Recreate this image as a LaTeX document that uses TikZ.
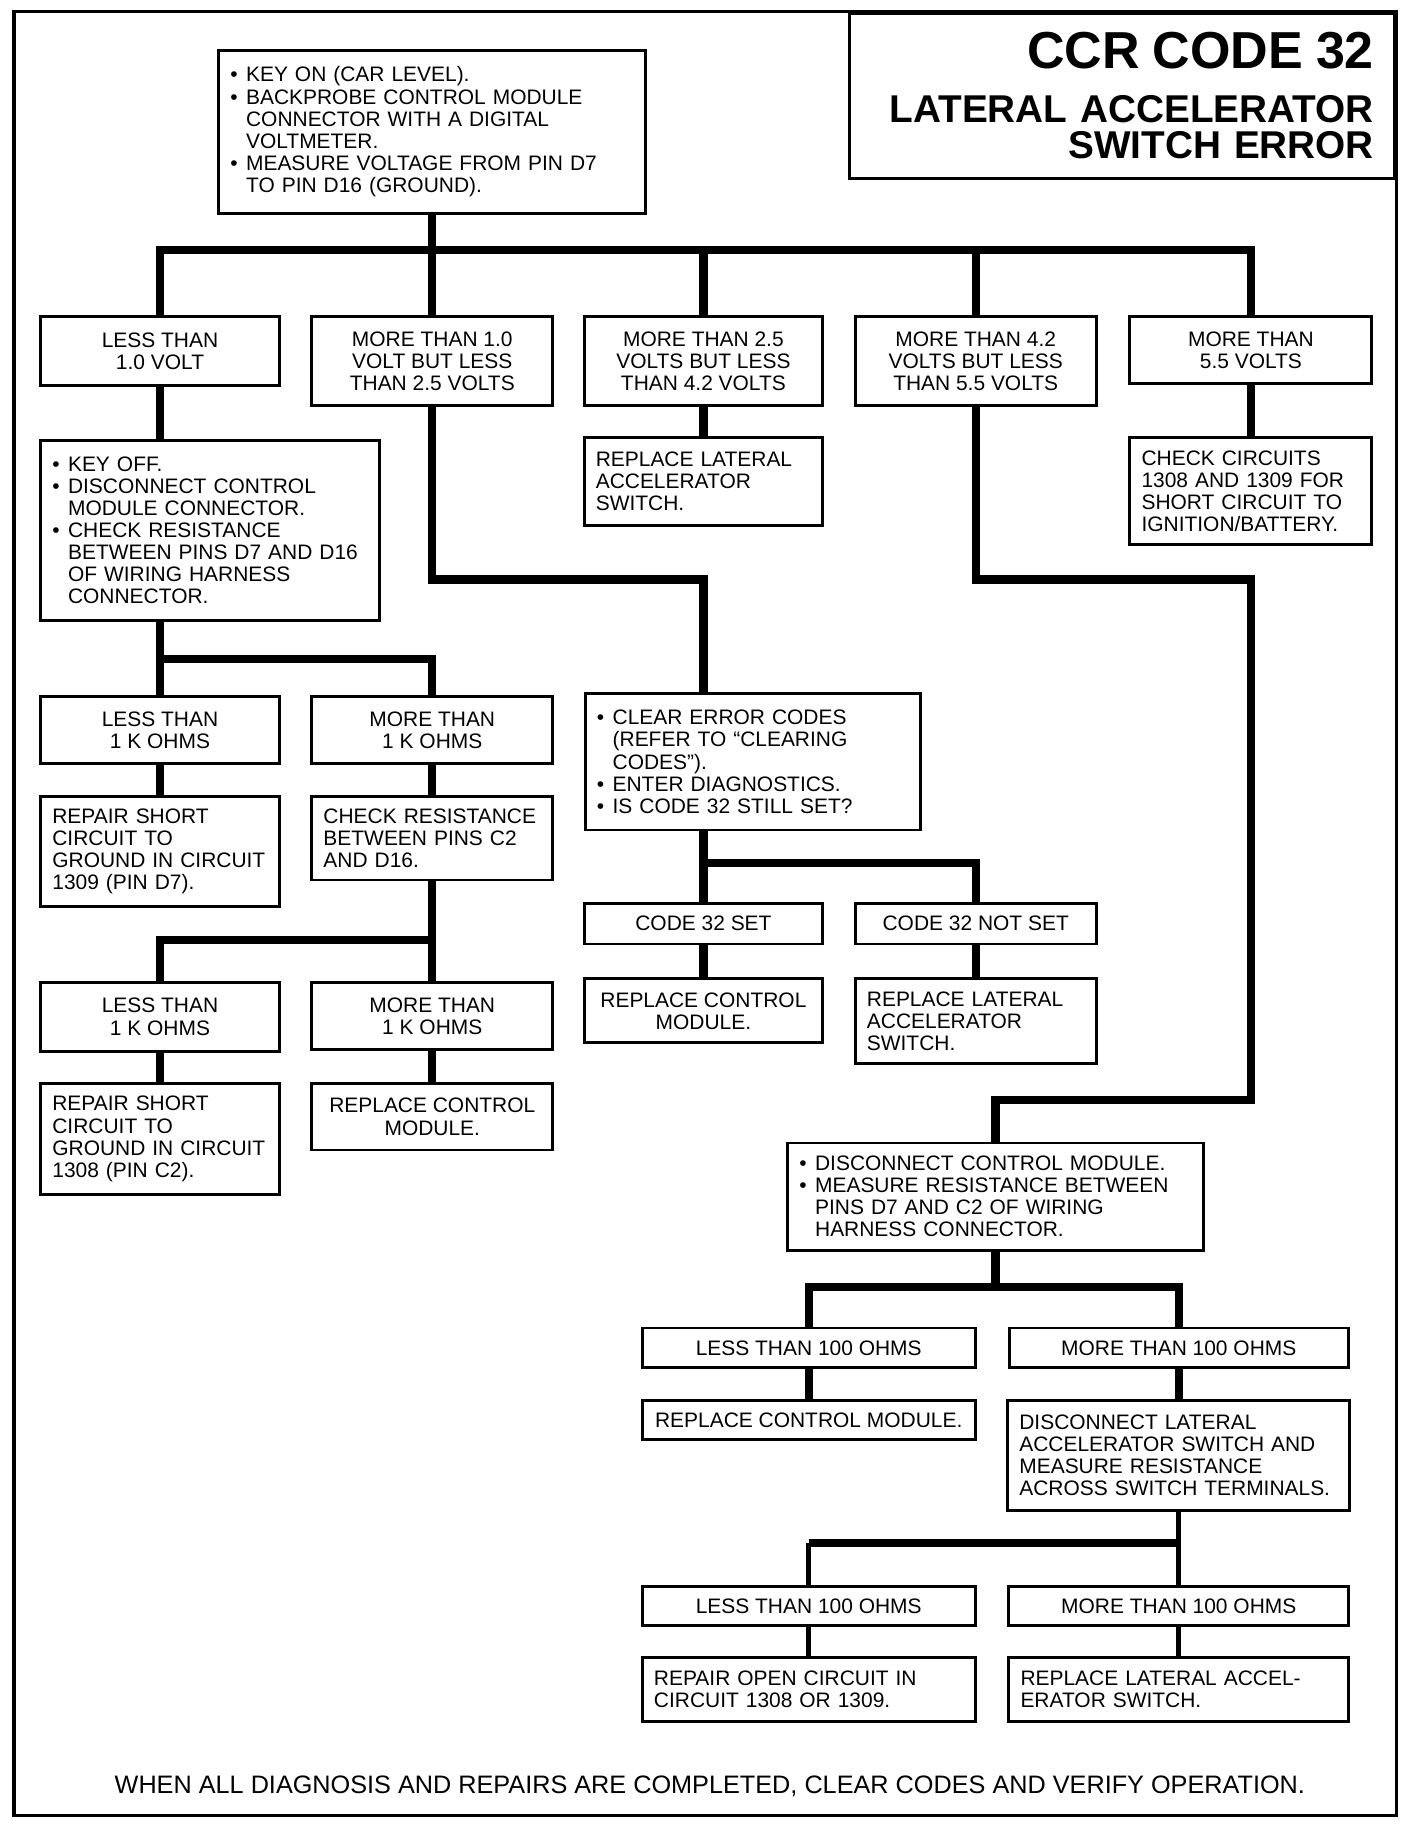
\documentclass[tikz,border=0pt]{standalone}
\usepackage{fontspec}
\setmainfont{Liberation Sans}
\setlength{\parindent}{0pt}
\newcommand{\bul}{\makebox[0.75em][l]{\textbullet}}
\newcommand{\ind}{\hspace*{0.75em}}
\tikzset{
  box/.style={draw, line width=2.5pt, inner xsep=10pt, inner ysep=3pt, anchor=north, font=\fontsize{18}{19}\selectfont},
  lbox/.style={box, align=left},
  cbox/.style={box, align=center},
  wire/.style={line width=7pt},
  thinwire/.style={line width=4pt},
}
\begin{document}
\begin{tikzpicture}[x=1pt,y=-1pt]
    \useasboundingbox (0,0) rectangle (1210,1567.5);
    % frame and title
    \draw[line width=3pt] (12,10) rectangle (1200,1560);
    \node[draw, line width=2.5pt, anchor=north east, minimum width=469pt, minimum height=142pt, inner xsep=18pt, text width=433pt, align=right, font=\fontsize{33.3}{31}\selectfont\bfseries] (title) at (1200,10)
      {{\fontsize{44.7}{46}\selectfont CCR CODE 32}\\[15pt] LATERAL ACCELERATOR\\ SWITCH ERROR};

    \node[lbox, text width=347pt, minimum height=140pt] (keyon) at (371.5,42)
      {\bul KEY ON (CAR LEVEL).\\ \bul BACKPROBE CONTROL MODULE\\ \ind CONNECTOR WITH A DIGITAL\\ \ind VOLTMETER.\\ \bul MEASURE VOLTAGE FROM PIN D7\\ \ind TO PIN D16 (GROUND).};

    % voltage ranges
    \node[cbox, minimum width=205pt, minimum height=59pt] (v1) at (137.5,271) {LESS THAN\\ 1.0 VOLT};
    \node[cbox, minimum width=207pt, minimum height=76pt] (v2) at (371.5,271) {MORE THAN 1.0\\ VOLT BUT LESS\\ THAN 2.5 VOLTS};
    \node[cbox, minimum width=205pt, minimum height=76pt] (v3) at (604.5,271) {MORE THAN 2.5\\ VOLTS BUT LESS\\ THAN 4.2 VOLTS};
    \node[cbox, minimum width=207pt, minimum height=76pt] (v4) at (838.5,271) {MORE THAN 4.2\\ VOLTS BUT LESS\\ THAN 5.5 VOLTS};
    \node[cbox, minimum width=208pt, minimum height=57pt] (v5) at (1075,271) {MORE THAN\\ 5.5 VOLTS};

    \coordinate (bus) at (0,215);
    \draw[wire] (keyon.south) -- (keyon.south |- bus);
    \draw[wire] (v1.north) |- (v5.north |- bus) -- (v5.north);
    \foreach \n in {v2,v3,v4}
      \draw[wire] (\n.north) -- (\n.north |- bus);

    \node[lbox, text width=271pt, minimum height=155pt] (keyoff) at (180.5,377)
      {\bul KEY OFF.\\ \bul DISCONNECT CONTROL\\ \ind MODULE CONNECTOR.\\ \bul CHECK RESISTANCE\\ \ind BETWEEN PINS D7 AND D16\\ \ind OF WIRING HARNESS\\ \ind CONNECTOR.};
    \node[lbox, text width=185pt, minimum height=75pt] (repsw1) at (604.5,375) {REPLACE LATERAL\\ ACCELERATOR\\ SWITCH.};
    \node[lbox, text width=188pt, minimum height=92pt] (chkcirc) at (1075,375) {CHECK CIRCUITS\\ 1308 AND 1309 FOR\\ SHORT CIRCUIT TO\\ IGNITION/BATTERY.};
    \draw[wire] (v1.south) -- (v1.south |- keyoff.north);
    \draw[wire] (v3.south) -- (repsw1.north);
    \draw[wire] (v5.south) -- (chkcirc.north);

    % left branch
    \node[cbox, minimum width=205pt, minimum height=58pt] (lo1k) at (137.5,597) {LESS THAN\\ 1 K OHMS};
    \node[cbox, minimum width=207pt, minimum height=58pt] (hi1k) at (371.5,597) {MORE THAN\\ 1 K OHMS};
    \node[lbox, text width=185pt, minimum height=95pt] (short1) at (137.5,683) {REPAIR SHORT\\ CIRCUIT TO\\ GROUND IN CIRCUIT\\ 1309 (PIN D7).};
    \node[lbox, text width=187pt, minimum height=72pt] (chkc2) at (371.5,683) {CHECK RESISTANCE\\ BETWEEN PINS C2\\ AND D16.};
    \node[cbox, minimum width=205pt, minimum height=59pt] (lo1kb) at (137.5,843) {LESS THAN\\ 1 K OHMS};
    \node[cbox, minimum width=207pt, minimum height=58pt] (hi1kb) at (371.5,843) {MORE THAN\\ 1 K OHMS};
    \node[lbox, text width=185pt, minimum height=95pt] (short2) at (137.5,930) {REPAIR SHORT\\ CIRCUIT TO\\ GROUND IN CIRCUIT\\ 1308 (PIN C2).};
    \node[cbox, minimum width=207pt, minimum height=57pt] (repcm1) at (371.5,930) {REPLACE CONTROL\\ MODULE.};

    \coordinate (kbus) at (0,566);
    \draw[wire] (lo1k.north) -- (lo1k.north |- keyoff.south);
    \draw[wire] (lo1k.north |- kbus) -| (hi1k.north);
    \draw[wire] (lo1k.south) -- (short1.north);
    \draw[wire] (hi1k.south) -- (chkc2.north);
    \coordinate (cbus) at (0,808);
    \draw[wire] (chkc2.south) -- (hi1kb.north);
    \draw[wire] (hi1kb.north |- cbus) -| (lo1kb.north);
    \draw[wire] (lo1kb.south) -- (short2.north);
    \draw[wire] (hi1kb.south) -- (repcm1.north);

    % middle branch
    \node[lbox, text width=268pt, minimum height=117pt] (clear) at (647,595)
      {\bul CLEAR ERROR CODES\\ \ind (REFER TO ``CLEARING\\ \ind CODES'').\\ \bul ENTER DIAGNOSTICS.\\ \bul IS CODE 32 STILL SET?};
    \node[cbox, minimum width=205pt, minimum height=35pt] (codeset) at (604.5,775) {CODE 32 SET};
    \node[cbox, minimum width=207pt, minimum height=35pt] (notset) at (838.5,775) {CODE 32 NOT SET};
    \node[cbox, minimum width=205pt, minimum height=55pt] (repcm2) at (604.5,840) {REPLACE CONTROL\\ MODULE.};
    \node[lbox, text width=187pt, minimum height=73pt] (repsw2) at (838.5,840) {REPLACE LATERAL\\ ACCELERATOR\\ SWITCH.};

    \coordinate (turn2) at (604.5,498);
    \draw[wire] (v2.south) |- (turn2) -- (turn2 |- clear.north);
    \coordinate (sbus) at (0,742);
    \draw[wire] (codeset.north) -- (codeset.north |- clear.south);
    \draw[wire] (codeset.north |- sbus) -| (notset.north);
    \draw[wire] (codeset.south) -- (repcm2.north);
    \draw[wire] (notset.south) -- (repsw2.north);

    % right branch
    \node[lbox, text width=337pt, minimum height=92pt] (discm) at (855.5,981)
      {\bul DISCONNECT CONTROL MODULE.\\ \bul MEASURE RESISTANCE BETWEEN\\ \ind PINS D7 AND C2 OF WIRING\\ \ind HARNESS CONNECTOR.};
    \node[cbox, minimum width=286pt, minimum height=34pt] (lo100a) at (695,1140) {LESS THAN 100 OHMS};
    \node[cbox, minimum width=291pt, minimum height=34pt] (hi100a) at (1013,1140) {MORE THAN 100 OHMS};
    \node[cbox, minimum width=286pt, minimum height=34pt] (repcm3) at (695,1202) {REPLACE CONTROL MODULE.};
    \node[lbox, text width=274pt, minimum height=95pt] (dissw) at (1013,1202) {DISCONNECT LATERAL\\ ACCELERATOR SWITCH AND\\ MEASURE RESISTANCE\\ ACROSS SWITCH TERMINALS.};
    \node[cbox, minimum width=286pt, minimum height=34pt] (lo100b) at (695,1362) {LESS THAN 100 OHMS};
    \node[cbox, minimum width=292pt, minimum height=34pt] (hi100b) at (1013,1362) {MORE THAN 100 OHMS};
    \node[lbox, text width=266pt, minimum height=55pt] (repopen) at (695,1423) {REPAIR OPEN CIRCUIT IN\\ CIRCUIT 1308 OR 1309.};
    \node[lbox, text width=272pt, minimum height=55pt] (repsw3) at (1013,1423) {REPLACE LATERAL ACCEL-\\ ERATOR SWITCH.};

    \coordinate (turn4) at (1075,498);
    \coordinate (turn4b) at (1075,945);
    \draw[wire] (v4.south) |- (turn4) -- (turn4b) -| (discm.north);
    \coordinate (dbus) at (0,1106);
    \draw[wire] (discm.south) -- (discm.south |- dbus);
    \draw[wire] (lo100a.north) |- (hi100a.north |- dbus) -- (hi100a.north);
    \draw[wire] (lo100a.south) -- (repcm3.north);
    \draw[wire] (hi100a.south) -- (dissw.north);
    \coordinate (ebus) at (0,1326);
    \draw[thinwire] (dissw.south) -- (hi100b.north);
    \draw[wire] (hi100b.north |- ebus) -- (lo100b.north |- ebus);
    \draw[thinwire] (lo100b.north |- ebus) -- (lo100b.north);
    \draw[thinwire] (lo100b.south) -- (repopen.north);
    \draw[thinwire] (hi100b.south) -- (repsw3.north);

    \node[font=\fontsize{21.7}{24}\selectfont] (note) at (610,1535) {WHEN ALL DIAGNOSIS AND REPAIRS ARE COMPLETED, CLEAR CODES AND VERIFY OPERATION.};
\end{tikzpicture}
\end{document}
